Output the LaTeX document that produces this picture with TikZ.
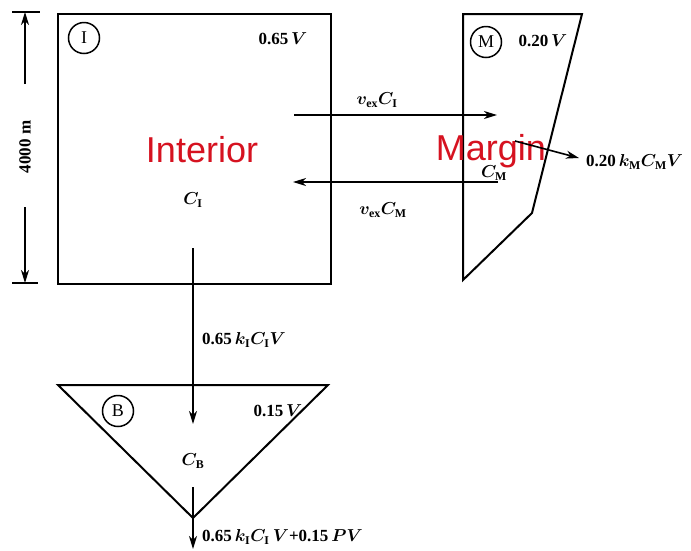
\documentclass[tikz,border=0pt]{standalone}
\usepackage{fontspec}
\setmainfont{Liberation Serif}
\newfontfamily\redfont{Liberation Sans}
\usetikzlibrary{arrows.meta}
\definecolor{labred}{RGB}{214,18,32}
\begin{document}
\begin{tikzpicture}[x=1pt,y=-1pt,
  box/.style={draw, line width=2pt},
  arr/.style={-{Stealth[length=13pt,width=8pt,inset=4pt]}, line width=1.6pt},
  lab/.style={font=\fontsize{17}{19}\selectfont\bfseries\boldmath, inner sep=0pt},
  tag/.style={circle, draw, line width=1.5pt, minimum size=31pt, inner sep=0pt, font=\fontsize{18}{20}\selectfont},
  big/.style={font=\redfont\fontsize{36}{40}\selectfont, text=labred, inner sep=0pt}]
\useasboundingbox (0,0) rectangle (691,550);
% interior box
\node[box, minimum width=273pt, minimum height=270pt, anchor=north west, inner sep=0pt] (I) at (57,13) {};
% margin polygon
\coordinate (m1) at (463,14);
\coordinate (m2) at (582,14);
\coordinate (m3) at (532,213);
\coordinate (m4) at (463,280);
\draw[box, line join=miter] (m1) -- (m2) -- (m3) -- (m4) -- cycle;
% bottom triangle
\coordinate (b1) at (58,385);
\coordinate (b2) at (328,385);
\coordinate (b3) at (193,518);
\draw[box] (b1) -- (b2) -- (b3) -- cycle;
% dimension
\coordinate (d1) at (12,12);  \coordinate (d2) at (40,12);
\coordinate (d3) at (12,283); \coordinate (d4) at (38,283);
\draw[line width=2pt] (d1) -- (d2);
\draw[line width=2pt] (d3) -- (d4);
\node[lab, rotate=90] (dim) at (25,147) {4000 m};
\coordinate (da) at (25,84);  \coordinate (dat) at (25,12);
\coordinate (db) at (25,207); \coordinate (dbt) at (25,283);
\draw[arr] (da) -- (dat);
\draw[arr] (db) -- (dbt);
% tags
\node[tag] (tI) at (84,38) {I};
\node[tag] (tM) at (486,42) {M};
\node[tag] (tB) at (118,411) {B};
\node[lab] (vI) at (283,39) {0.65\,$V$};
\node[lab] (vM) at (543,41) {0.20\,$V$};
\node[lab] (vB) at (278,411) {0.15\,$V$};
% concentrations
\node[lab] (cI) at (193,200) {$C_{\mathrm{I}}$};
\node[lab] (cM) at (494,173) {$C_{\mathrm{M}}$};
\node[lab] (cB) at (193,461) {$C_{\mathrm{B}}$};
% red labels
\node[big] (int) at (202,150) {Interior};
\node[big] (mar) at (491,151) {Margin};
% exchange arrows
\coordinate (e1s) at (294,115); \coordinate (e1e) at (497,115);
\coordinate (e2s) at (498,182); \coordinate (e2e) at (293,182);
\draw[arr] (e1s) -- (e1e);
\draw[arr] (e2s) -- (e2e);
\node[lab] (lex1) at (377,100) {$v_{\mathrm{ex}}C_{\mathrm{I}}$};
\node[lab] (lex2) at (383,210) {$v_{\mathrm{ex}}C_{\mathrm{M}}$};
% margin outflow
\coordinate (o1) at (515,141); \coordinate (o2) at (579,158);
\draw[arr] (o1) -- (o2);
\node[lab, anchor=west] (lo) at (586,162) {0.20\,$k_{\mathrm{M}}C_{\mathrm{M}}V$};
% interior to bottom
\coordinate (s1) at (193,248); \coordinate (s2) at (193,424);
\draw[arr] (s1) -- (s2);
\node[lab, anchor=west] (ls) at (202,340) {0.65\,$k_{\mathrm{I}}C_{\mathrm{I}}V$};
% bottom outflow
\coordinate (u1) at (193,487); \coordinate (u2) at (193,549);
\draw[arr] (u1) -- (u2);
\node[lab, anchor=west] (lu) at (202,537) {0.65\,$k_{\mathrm{I}}C_{\mathrm{I}}\,V$+0.15\,$PV$};
\end{tikzpicture}
\end{document}
